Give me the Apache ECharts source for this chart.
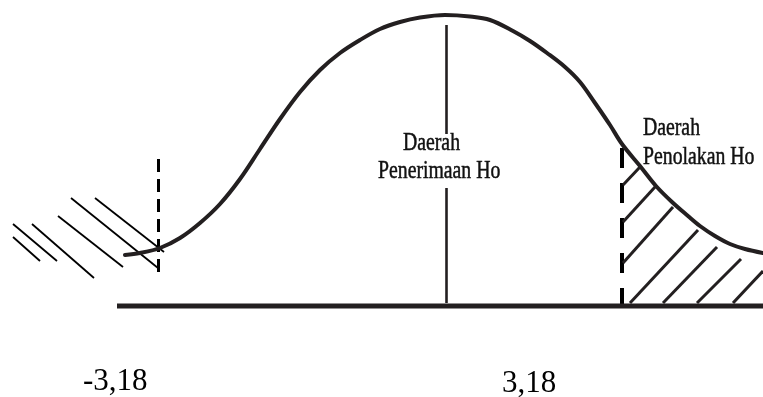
<!DOCTYPE html>
<html>
<head>
<meta charset="utf-8">
<title>Daerah Penerimaan Ho</title>
<script src="https://cdn.jsdelivr.net/npm/echarts@6/dist/echarts.min.js"></script>
<style>
  html, body { margin: 0; padding: 0; background: #fff; }
  #chart { width: 763px; height: 397px; }
</style>
</head>
<body>
<div id="chart"></div>
<script>
  // kurva (x = satuan horizontal, y = tinggi di atas garis dasar)
  var curveX = [-3.20, -3.05, -2.85, -2.65, -2.45, -2.25, -2.05, -1.85, -1.65, -1.45, -1.25, -1.05,
                -0.85, -0.65, -0.45, -0.25, 0, 0.25, 0.45, 0.68, 0.85, 1.02, 1.20, 1.35, 1.50, 1.65,
                1.77, 1.95, 2.11, 2.27, 2.43, 2.55, 2.70, 2.85, 3.00, 3.18];
  var curveY = [0.51, 0.53, 0.58, 0.68, 0.83, 1.02, 1.27, 1.57, 1.87, 2.14, 2.36, 2.53,
                2.66, 2.77, 2.84, 2.885, 2.91, 2.895, 2.86, 2.75, 2.65, 2.53, 2.39, 2.24, 2.03, 1.81,
                1.62, 1.40, 1.20, 1.04, 0.90, 0.80, 0.70, 0.62, 0.57, 0.53];

  // garis dasar
  var baseX = [-3.28, 3.18];

  // garis tengah (dua potong, terputus oleh teks)
  var centerX = 0.01;
  var centerY = [[2.81, 1.72], [1.18, 0.03]];

  // garis batas kritis (putus-putus)
  var critX = [-2.87, 1.77];
  var critY = [[1.47, 0.28], [1.58, 0.01]];
  var critLabels = ['-3,18', '3,18'];

  // arsiran kiri: [x1, y1, x2, y2]
  var hatchLeft = [
    [-4.32, 0.69, -4.05, 0.45],
    [-4.32, 0.82, -3.88, 0.45],
    [-4.13, 0.82, -3.51, 0.28],
    [-3.87, 0.90, -3.22, 0.39],
    [-3.74, 1.08, -2.87, 0.38],
    [-3.50, 1.08, -2.81, 0.54]
  ];
  // arsiran kanan
  var hatchRight = [
    [1.78, 1.21, 1.95, 1.39],
    [1.78, 0.84, 2.10, 1.19],
    [1.78, 0.43, 2.28, 0.99],
    [1.85, 0.03, 2.53, 0.76],
    [2.18, 0.03, 2.72, 0.59],
    [2.52, 0.03, 2.96, 0.47],
    [2.88, 0.03, 3.18, 0.35]
  ];

  var regionLabels = [['Daerah', 'Penerimaan Ho'], ['Daerah', 'Penolakan Ho']];

  var ink = '#231f20';

  function segs(list) {
    return list.map(function (s) {
      return { coords: [[s[0], s[1]], [s[2], s[3]]] };
    });
  }

  // teks serif yang dipersempit (hurufnya di gambar asli lebih ramping)
  function label(txt, x, y) {
    return {
      type: 'text', x: x, y: y, scaleX: 0.79, silent: true,
      style: {
        text: txt, fill: '#111', stroke: '#111', lineWidth: 0.5,
        font: '25px "Liberation Serif"', verticalAlign: 'middle'
      }
    };
  }

  var myChart = echarts.init(document.getElementById('chart'), null, { renderer: 'canvas' });

  var option = {
    animation: false,
    backgroundColor: '#fff',
    grid: { left: 0, right: 0, top: 0, bottom: 0 },
    xAxis: { type: 'value', min: -4.45, max: 3.18, show: false },
    yAxis: { type: 'value', min: -0.91, max: 3.06, show: false },
    series: [
      {
        type: 'line',
        data: curveX.map(function (x, i) { return [x, curveY[i]]; }),
        smooth: 0.35,
        showSymbol: false,
        clip: false,
        silent: true,
        lineStyle: { color: ink, width: 4, cap: 'round' }
      },
      {
        type: 'line',
        data: [[baseX[0], 0], [baseX[1], 0]],
        showSymbol: false,
        silent: true,
        lineStyle: { color: ink, width: 5, cap: 'butt' }
      },
      {
        type: 'lines',
        coordinateSystem: 'cartesian2d',
        silent: true,
        data: centerY.map(function (p) { return { coords: [[centerX, p[0]], [centerX, p[1]]] }; }),
        lineStyle: { color: ink, width: 2.6, opacity: 1 }
      },
      {
        type: 'lines',
        coordinateSystem: 'cartesian2d',
        silent: true,
        data: [{ coords: [[critX[0], critY[0][0]], [critX[0], critY[0][1]]] }],
        lineStyle: { color: '#000', width: 3, type: [13, 7], opacity: 1 }
      },
      {
        type: 'lines',
        coordinateSystem: 'cartesian2d',
        silent: true,
        data: [{ coords: [[critX[1], critY[1][0]], [critX[1], critY[1][1]]] }],
        lineStyle: { color: '#000', width: 4, type: [20, 15], opacity: 1 }
      },
      {
        type: 'lines',
        coordinateSystem: 'cartesian2d',
        silent: true,
        data: segs(hatchLeft),
        lineStyle: { color: '#000', width: 1.8, opacity: 1 }
      },
      {
        type: 'lines',
        coordinateSystem: 'cartesian2d',
        silent: true,
        data: segs(hatchRight),
        lineStyle: { color: ink, width: 3, opacity: 1 }
      }
    ],
    graphic: [
      label(regionLabels[0][0], 403, 143.5),
      label(regionLabels[0][1], 378, 171.5),
      label(regionLabels[1][0], 643, 128.5),
      label(regionLabels[1][1], 643, 157.5),
      // nilai kritis
      { type: 'text', x: 83, y: 381.5, silent: true,
        style: { text: critLabels[0], fill: '#000', font: '31px "Liberation Serif"', verticalAlign: 'middle' } },
      { type: 'text', x: 502, y: 383.5, silent: true,
        style: { text: critLabels[1], fill: '#000', font: '31px "Liberation Serif"', verticalAlign: 'middle' } }
    ]
  };

  if (option && typeof option === 'object') {
    myChart.setOption(option, true);
  }
</script>
</body>
</html>
